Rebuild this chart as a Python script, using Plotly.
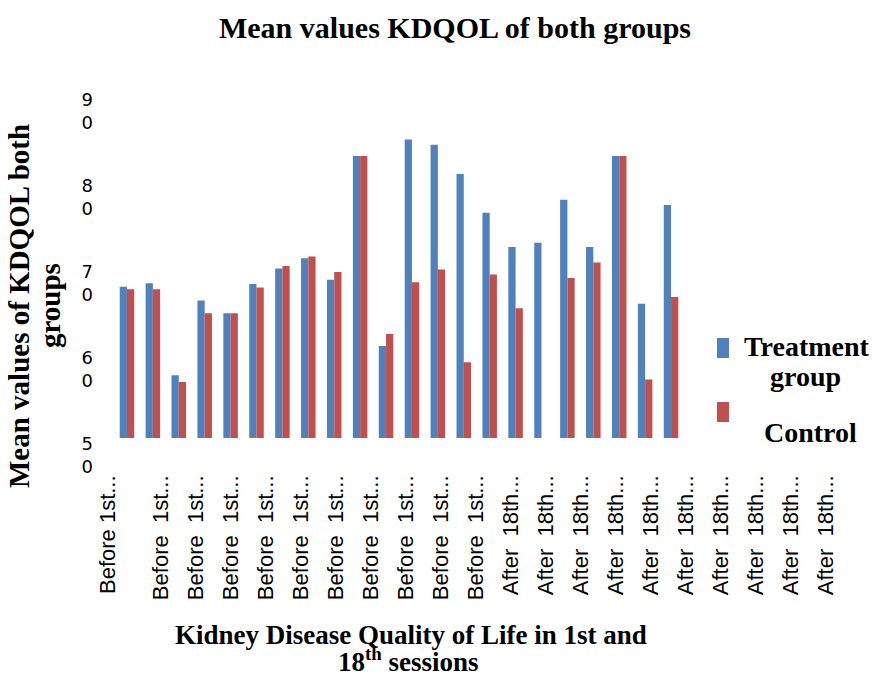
import plotly.graph_objects as go

# values (KDQOL means)
categories = [f"Before 1st ({i})" for i in range(1, 12)] + [f"After 18th ({i})" for i in range(1, 12)]
treatment = [67.6, 68.0, 57.3, 66.0, 64.5, 67.9, 69.7, 70.9, 68.4, 82.8, 60.7,
             84.7, 84.1, 80.7, 76.2, 72.2, 72.7, 77.7, 72.2, 82.8, 65.6, 77.1]
control = [67.3, 67.3, 56.5, 64.5, 64.5, 67.5, 70.0, 71.1, 69.3, 82.8, 62.1,
           68.1, 69.6, 58.8, 69.0, 65.1, None, 68.6, 70.4, 82.8, 56.8, 66.4]

# tick labels as they appear under the chart (truncated, shifted like in the original)
x_labels = ["Before 1st..."] + ["Before  1st..."] * 10 + ["After  18th..."] * 10
y_ticks = [50, 60, 70, 80, 90]
y_ticktext = ["5<br>0", "6<br>0", "7<br>0", "8<br>0", "9<br>0"]

# the page body adds an 8px margin, so the figure is drawn that much smaller
OFF = 8
W, H = 877 - OFF, 675 - OFF
# plot area in page pixels
LEFT, RIGHT, TOP, BOTTOM = 90, 847, 94, 438
PW = RIGHT - LEFT
PH = BOTTOM - TOP


def px(x):
    return (x - LEFT) / PW


def py(y):
    return (BOTTOM - y) / PH


BLUE = "#4F81BD"
RED = "#C0504D"
SERIF = "Liberation Serif, Times New Roman, serif"

fig = go.Figure()
fig.add_trace(go.Bar(x=categories, y=treatment, name="Treatment group",
                     marker_color=BLUE, showlegend=False))
fig.add_trace(go.Bar(x=categories, y=control, name="Control",
                     marker_color=RED, showlegend=False))
# empty trace so the label axis gets drawn
fig.add_trace(go.Scatter(x=[None], y=[None], xaxis="x2", yaxis="y",
                         showlegend=False, hoverinfo="skip"))

label_slots = [0.0] + [i + 0.5 for i in range(1, len(x_labels))]
slot = 35.0
r0 = -(108 - LEFT) / slot

fig.update_layout(
    width=W, height=H,
    margin=dict(l=LEFT - OFF, r=W - (RIGHT - OFF), t=TOP - OFF, b=H - (BOTTOM - OFF)),
    template="none",
    paper_bgcolor="white",
    plot_bgcolor="rgba(0,0,0,0)",
    barmode="group",
    bargap=0.44,
    bargroupgap=0,
    showlegend=False,
    title=dict(text="<b>Mean values KDQOL of both groups</b>",
               x=(455 - OFF) / W, xanchor="center", y=1 - (27 - OFF) / H, yanchor="middle",
               font=dict(family=SERIF, size=30, color="black")),
    xaxis=dict(domain=[px(114), px(684)], showticklabels=False, showgrid=False,
               zeroline=False, showline=False, ticks="", automargin=False),
    xaxis2=dict(domain=[0, 1], anchor="y", range=[r0, r0 + PW / slot],
                tickmode="array", tickvals=label_slots, ticktext=x_labels,
                tickangle=-90, showgrid=False, zeroline=False, showline=False,
                ticks="", ticklabelstandoff=32, automargin=False,
                tickfont=dict(family="Liberation Sans, Arial", size=22, color="black")),
    yaxis=dict(range=[50, 90], tickmode="array", tickvals=y_ticks, ticktext=y_ticktext,
               showgrid=False, zeroline=False, showline=False, ticks="",
               ticklabelstandoff=20, ticklabelshift=17, automargin=False,
               tickfont=dict(family="DejaVu Sans", size=18, color="black")),
)

# y axis title (two lines)
for txt, x in [("Mean values of KDQOL both", 19), ("groups", 50)]:
    fig.add_annotation(text=f"<b>{txt}</b>", textangle=-90,
                       xref="paper", yref="paper", x=px(x), y=py(306),
                       xanchor="center", yanchor="middle", showarrow=False,
                       font=dict(family=SERIF, size=29, color="black"))
# x axis title (two lines, tight spacing)
fig.add_annotation(text="<b>Kidney Disease Quality of Life in 1st and</b>",
                   xref="paper", yref="paper", x=px(411), y=py(635),
                   xanchor="center", yanchor="middle", showarrow=False,
                   font=dict(family=SERIF, size=27, color="black"))
fig.add_annotation(text="<b>18<sup>th</sup> sessions</b>",
                   xref="paper", yref="paper", x=px(408), y=py(660),
                   xanchor="center", yanchor="middle", showarrow=False,
                   font=dict(family=SERIF, size=27, color="black"))

# legend drawn by hand to match the original layout
fig.add_shape(type="rect", xref="paper", yref="paper",
              x0=px(717), x1=px(729), y0=py(358), y1=py(338),
              fillcolor=BLUE, line_width=0)
fig.add_shape(type="rect", xref="paper", yref="paper",
              x0=px(717), x1=px(729), y0=py(422), y1=py(402),
              fillcolor=RED, line_width=0)
for txt, x, y in [("Treatment", 807, 346), ("group", 805, 376), ("Control", 810, 432)]:
    fig.add_annotation(text=f"<b>{txt}</b>", xref="paper", yref="paper",
                       x=px(x), y=py(y), xanchor="center", yanchor="middle",
                       showarrow=False, font=dict(family=SERIF, size=28, color="black"))

fig.write_html("out.html")
